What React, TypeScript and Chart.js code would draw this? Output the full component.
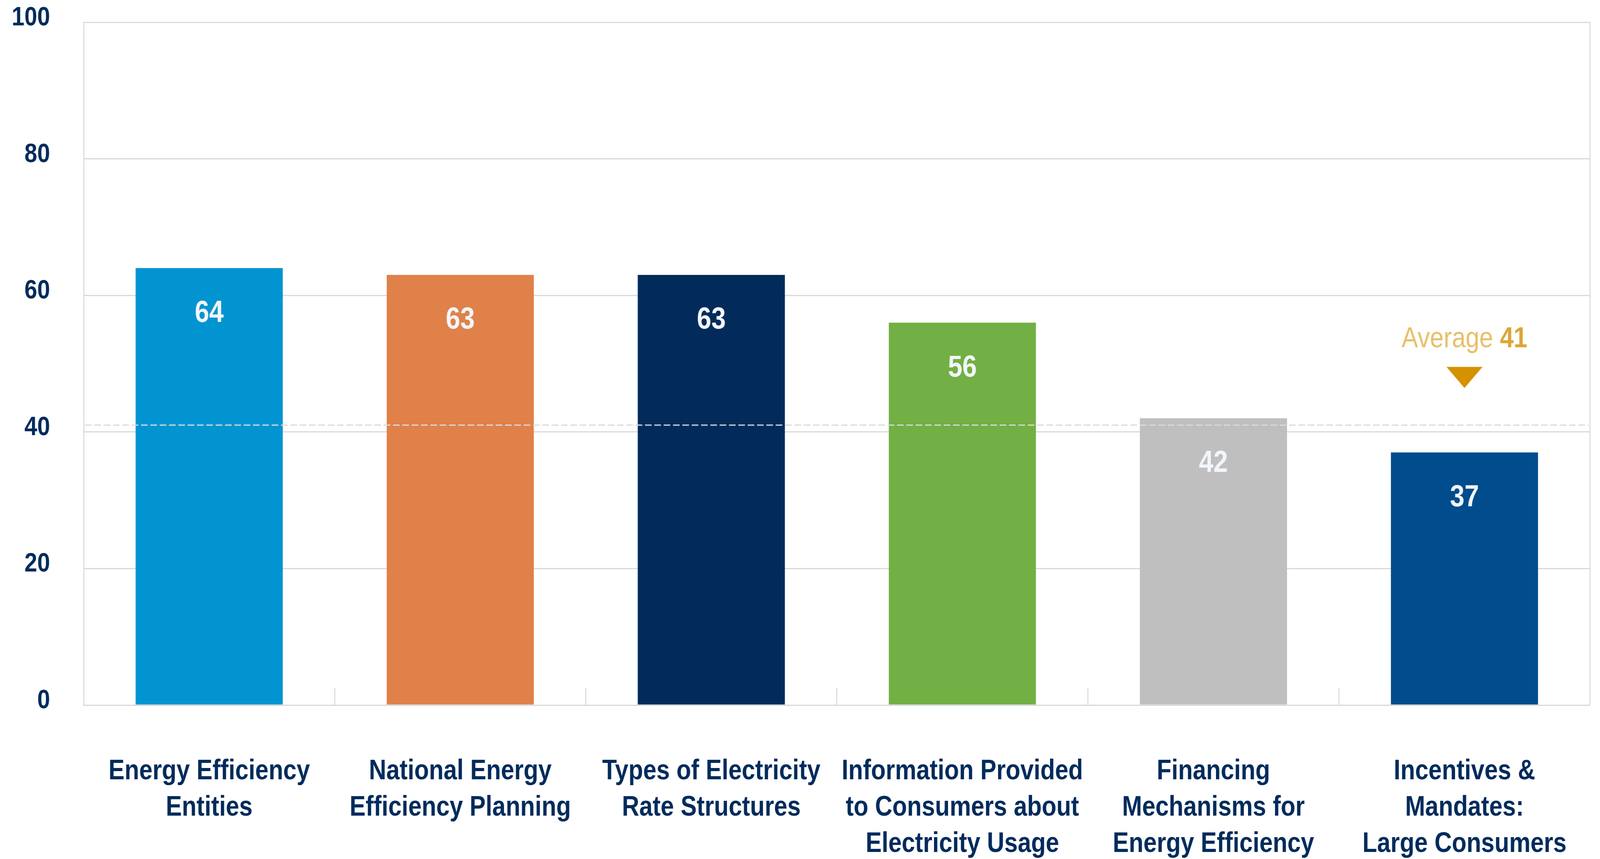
import React, { useEffect, useRef } from "react";
import { Chart, registerables } from "chart.js";

Chart.register(...registerables);

// ---- data ----
const categories: string[][] = [
  ["Energy Efficiency", "Entities"],
  ["National Energy", "Efficiency Planning"],
  ["Types of Electricity", "Rate Structures"],
  ["Information Provided", "to Consumers about", "Electricity Usage"],
  ["Financing", "Mechanisms for", "Energy Efficiency"],
  ["Incentives &", "Mandates:", "Large Consumers"],
];
const scores: number[] = [64, 63, 63, 56, 42, 37];
const barColors: string[] = ["#0294D1", "#E0814A", "#022B5B", "#72AF44", "#BFBFBF", "#004C8D"];
const yTicks: number[] = [0, 20, 40, 60, 80, 100];
const averageScore = 41;
const averageWord = "Average";

// ---- style ----
const W = 4800;
const H = 2199;
const FONT = "'Liberation Sans', Arial, Helvetica, sans-serif";
const NAVY = "#002B5C";
const GRID = "#D9D9D9";

const overlayPlugin = {
  id: "overlay",
  afterDatasetsDraw(chart: any) {
    const { ctx, chartArea, scales } = chart;
    const xs = scales.x;
    const ys = scales.y;
    ctx.save();

    // inner category separators (short upward ticks)
    ctx.strokeStyle = GRID;
    ctx.lineWidth = 3;
    ctx.setLineDash([]);
    for (let i = 1; i < categories.length; i++) {
      const px = (xs.getPixelForValue(i - 1) + xs.getPixelForValue(i)) / 2;
      ctx.beginPath();
      ctx.moveTo(px, chartArea.bottom);
      ctx.lineTo(px, chartArea.bottom - 44);
      ctx.stroke();
    }
    // right border
    ctx.beginPath();
    ctx.moveTo(chartArea.right, chartArea.top);
    ctx.lineTo(chartArea.right, chartArea.bottom);
    ctx.stroke();

    // average dashed line
    const ay = ys.getPixelForValue(averageScore);
    ctx.strokeStyle = "#DADADA";
    ctx.lineWidth = 3;
    ctx.setLineDash([20, 8]);
    ctx.beginPath();
    ctx.moveTo(chartArea.left + 4, ay);
    ctx.lineTo(chartArea.right - 4, ay);
    ctx.stroke();
    ctx.setLineDash([]);

    // value labels inside bars
    const meta = chart.getDatasetMeta(0);
    ctx.fillStyle = "#F2F6FA";
    ctx.font = `bold 78px ${FONT}`;
    ctx.textAlign = "center";
    ctx.textBaseline = "middle";
    meta.data.forEach((bar: any, i: number) => {
      ctx.fillText(String(scores[i]), bar.x, bar.y + 116);
    });

    // average annotation over last category
    const cx = xs.getPixelForValue(categories.length - 1);
    const wordFont = `normal 74px ${FONT}`;
    const numFont = `bold 74px ${FONT}`;
    ctx.font = wordFont;
    const w1 = ctx.measureText(averageWord + " ").width;
    ctx.font = numFont;
    const w2 = ctx.measureText(String(averageScore)).width;
    const startX = cx - (w1 + w2) / 2;
    const baseY = ay - 199;
    ctx.textAlign = "left";
    ctx.textBaseline = "alphabetic";
    ctx.font = wordFont;
    ctx.fillStyle = "#E8BF6A";
    ctx.fillText(averageWord + " ", startX, baseY);
    ctx.font = numFont;
    ctx.fillStyle = "#DCA637";
    ctx.fillText(String(averageScore), startX + w1, baseY);

    // triangle marker
    ctx.fillStyle = "#D49200";
    ctx.beginPath();
    ctx.moveTo(cx - 54, ay - 149);
    ctx.lineTo(cx + 54, ay - 149);
    ctx.lineTo(cx, ay - 95);
    ctx.closePath();
    ctx.fill();

    ctx.restore();
  },
};

export default function App() {
  const canvasRef = useRef<HTMLCanvasElement | null>(null);

  useEffect(() => {
    if (!canvasRef.current) return;
    const chart = new Chart(canvasRef.current, {
      type: "bar",
      data: {
        labels: categories,
        datasets: [
          {
            data: scores,
            backgroundColor: barColors,
            borderWidth: 0,
            categoryPercentage: 1,
            barPercentage: 0.586,
          },
        ],
      },
      options: {
        animation: false,
        responsive: false,
        maintainAspectRatio: false,
        devicePixelRatio: 1,
        layout: { padding: { left: 35, right: 30, top: 57, bottom: 0 } },
        plugins: {
          legend: { display: false },
          tooltip: { enabled: false },
          title: { display: false },
        },
        scales: {
          x: {
            type: "category",
            offset: true,
            grid: { display: false, drawTicks: false },
            border: { display: true, color: GRID, width: 3 },
            ticks: {
              color: NAVY,
              font: { family: FONT, size: 72, weight: "bold", lineHeight: 1.29 },
              padding: 124,
              maxRotation: 0,
              minRotation: 0,
              autoSkip: false,
            },
            afterFit: (scale: any) => {
              scale.height = 394;
              scale.paddingLeft = 0;
              scale.paddingRight = 0;
            },
          },
          y: {
            type: "linear",
            min: 0,
            max: 100,
            afterBuildTicks: (axis: any) => {
              axis.ticks = yTicks.map((v) => ({ value: v }));
            },
            grid: { color: GRID, lineWidth: 3, drawTicks: false },
            border: { display: true, color: GRID, width: 3 },
            ticks: {
              color: NAVY,
              font: { family: FONT, size: 69, weight: "bold" },
              padding: 101,
              labelOffset: -11,
            },
            afterFit: (scale: any) => {
              scale.width = 216;
              scale.paddingTop = 0;
              scale.paddingBottom = 0;
            },
          },
        },
      },
      plugins: [overlayPlugin],
    });
    return () => chart.destroy();
  }, []);

  return (
    <div
      style={{
        position: "fixed",
        left: 0,
        top: 0,
        width: "100vw",
        height: "100vh",
        background: "#ffffff",
        overflow: "hidden",
      }}
    >
      <canvas
        ref={canvasRef}
        width={W}
        height={H}
        style={{ display: "block", width: "100vw", height: "100vh" }}
      />
    </div>
  );
}
